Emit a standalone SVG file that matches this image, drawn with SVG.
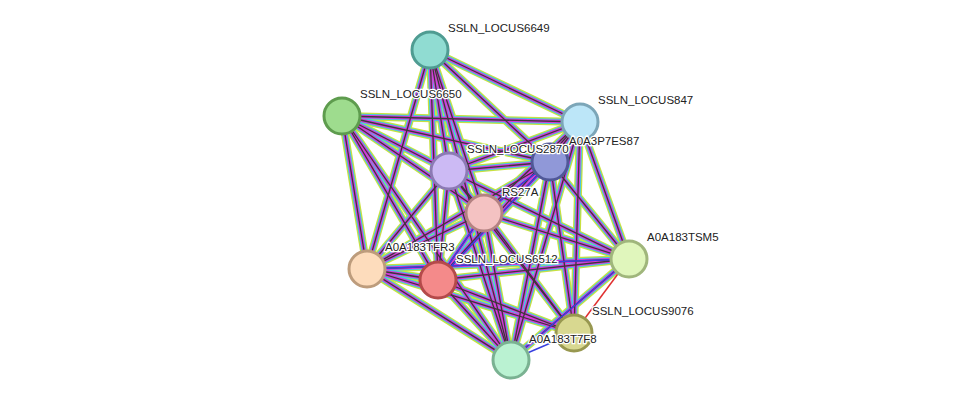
<svg xmlns="http://www.w3.org/2000/svg" xmlns:xlink="http://www.w3.org/1999/xlink" width="976" height="406" viewBox="0 0 976 406">
<style>
.n{stroke-width:3}
.t{font-family:"Liberation Sans",Arial,sans-serif;font-size:11.5px;fill:#222;paint-order:stroke;stroke:#fff;stroke-width:2.5px}
</style>
<defs>
<g id="E">
<line x1="430" y1="50" x2="580" y2="122"/><line x1="430" y1="50" x2="550" y2="162"/><line x1="430" y1="50" x2="449" y2="171"/><line x1="430" y1="50" x2="484" y2="213"/><line x1="430" y1="50" x2="367" y2="269"/><line x1="430" y1="50" x2="438" y2="280"/><line x1="430" y1="50" x2="511" y2="360"/>
<line x1="342" y1="116" x2="580" y2="122"/><line x1="342" y1="116" x2="550" y2="162"/><line x1="342" y1="116" x2="449" y2="171"/><line x1="342" y1="116" x2="484" y2="213"/><line x1="342" y1="116" x2="367" y2="269"/><line x1="342" y1="116" x2="438" y2="280"/><line x1="342" y1="116" x2="511" y2="360"/>
<line x1="580" y1="122" x2="550" y2="162"/><line x1="580" y1="122" x2="449" y2="171"/><line x1="580" y1="122" x2="484" y2="213"/><line x1="580" y1="122" x2="629" y2="259"/><line x1="580" y1="122" x2="438" y2="280"/><line x1="580" y1="122" x2="574" y2="333"/><line x1="580" y1="122" x2="511" y2="360"/>
<line x1="550" y1="162" x2="449" y2="171"/><line x1="550" y1="162" x2="484" y2="213"/><line x1="550" y1="162" x2="367" y2="269"/><line x1="550" y1="162" x2="438" y2="280"/><line x1="550" y1="162" x2="574" y2="333"/><line x1="550" y1="162" x2="511" y2="360"/><line x1="550" y1="162" x2="629" y2="259"/>
<line x1="449" y1="171" x2="484" y2="213"/><line x1="449" y1="171" x2="367" y2="269"/><line x1="449" y1="171" x2="438" y2="280"/><line x1="449" y1="171" x2="511" y2="360"/><line x1="449" y1="171" x2="574" y2="333"/><line x1="449" y1="171" x2="629" y2="259"/>
<line x1="484" y1="213" x2="367" y2="269"/><line x1="484" y1="213" x2="438" y2="280"/><line x1="484" y1="213" x2="574" y2="333"/><line x1="484" y1="213" x2="511" y2="360"/><line x1="484" y1="213" x2="629" y2="259"/>
<line x1="629" y1="259" x2="367" y2="269"/><line x1="629" y1="259" x2="438" y2="280"/><line x1="629" y1="259" x2="511" y2="360"/>
<line x1="367" y1="269" x2="438" y2="280"/><line x1="367" y1="269" x2="511" y2="360"/><line x1="367" y1="269" x2="574" y2="333"/>
<line x1="438" y1="280" x2="574" y2="333"/><line x1="438" y1="280" x2="511" y2="360"/>
</g>
</defs>
<rect width="976" height="406" fill="#fff"/>
<g id="connectors" fill="none">
<use xlink:href="#E" stroke="#c8e040" stroke-width="8"/>
<use xlink:href="#E" stroke="#40c8e8" stroke-width="5.5"/>
<use xlink:href="#E" stroke="#d838d8" stroke-width="3.5"/>
<use xlink:href="#E" stroke="#3a3a3a" stroke-width="1.3"/>
<g stroke="#3840e0" stroke-width="1.5">
<line x1="550" y1="162" x2="484" y2="213"/><line x1="550" y1="162" x2="438" y2="280"/><line x1="484" y1="213" x2="438" y2="280"/><line x1="629" y1="259" x2="511" y2="360"/>
<line x1="574" y1="333" x2="511" y2="360"/><line x1="629" y1="259" x2="367" y2="269"/>
</g>
<line x1="629" y1="259" x2="574" y2="333" stroke="#e03030" stroke-width="1.5"/>
</g>
<g id="n6649"><circle class="n" cx="430" cy="50" r="18" fill="#90dcd2" stroke="#4f9c92"/><text class="t" x="448" y="32">SSLN_LOCUS6649</text></g>
<g id="n6650"><circle class="n" cx="342" cy="116" r="18" fill="#9edc8e" stroke="#5e9c4e"/><text class="t" x="360" y="98">SSLN_LOCUS6650</text></g>
<g id="n847"><circle class="n" cx="580" cy="122" r="18" fill="#bce6f8" stroke="#7ca6b8"/><text class="t" x="598" y="104">SSLN_LOCUS847</text></g>
<g id="nES87"><circle class="n" cx="550" cy="162" r="18" fill="#9098d8" stroke="#505898"/><text class="t" x="569" y="145">A0A3P7ES87</text></g>
<g id="n2870"><circle class="n" cx="449" cy="171" r="18" fill="#ccbaf4" stroke="#8c7ab4"/><text class="t" x="467" y="153">SSLN_LOCUS2870</text></g>
<g id="nRS27A"><circle class="n" cx="484" cy="213" r="18" fill="#f4c2c2" stroke="#b48282"/><text class="t" x="502" y="196">RS27A</text></g>
<g id="nTSM5"><circle class="n" cx="629" cy="259" r="18" fill="#e0f6bc" stroke="#a0b67c"/><text class="t" x="647" y="241">A0A183TSM5</text></g>
<g id="nTFR3"><circle class="n" cx="367" cy="269" r="18" fill="#fddcbc" stroke="#bd9c7c"/><text class="t" x="385" y="251">A0A183TFR3</text></g>
<g id="n6512"><circle class="n" cx="438" cy="280" r="18" fill="#f48a8a" stroke="#b44a4a"/><text class="t" x="456" y="263">SSLN_LOCUS6512</text></g>
<g id="n9076"><circle class="n" cx="574" cy="333" r="18" fill="#d8d890" stroke="#989850"/><text class="t" x="592" y="315">SSLN_LOCUS9076</text></g>
<g id="nT7F8"><circle class="n" cx="511" cy="360" r="18" fill="#baf2d2" stroke="#7ab292"/><text class="t" x="529" y="343">A0A183T7F8</text></g>
</svg>
